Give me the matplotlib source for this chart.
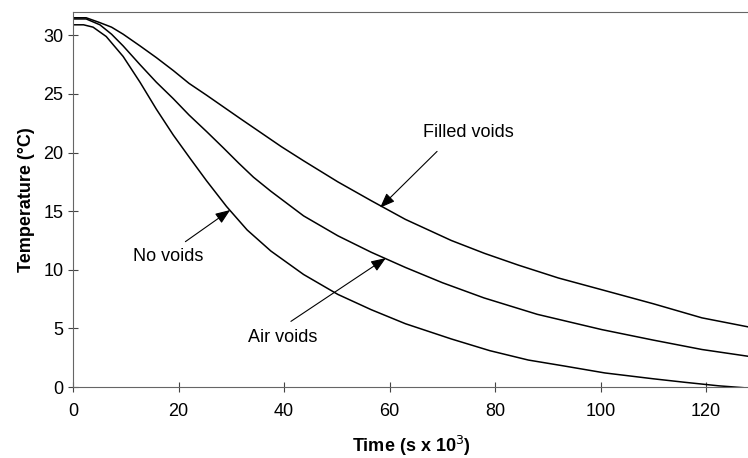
import numpy as np
from matplotlib import pyplot as plt

plt.rcParams['font.family'] = ['Liberation Sans', 'DejaVu Sans']

# time (s x 10^3) and temperature (C)
t_none = [0, 2, 3.8, 6.3, 9.5, 12.7, 15.8, 19, 22.2, 25.3, 29.1, 33, 37.5, 43.7, 50.2, 56.5, 63, 71.7, 79, 86.3, 93, 100.8, 110, 116, 122.4, 128.3]
T_none = [30.9, 30.9, 30.7, 29.9, 28.2, 26.0, 23.7, 21.5, 19.5, 17.6, 15.4, 13.4, 11.6, 9.6, 7.9, 6.6, 5.4, 4.1, 3.1, 2.3, 1.8, 1.2, 0.7, 0.4, 0.1, -0.1]

t_air = [0, 2.5, 5.1, 7.3, 9.5, 12.7, 15.8, 19, 22, 25.3, 28.5, 31.4, 34.2, 37.5, 43.7, 50.2, 56.5, 63, 70, 77.9, 88, 100.2, 110, 119.2, 128.3]
T_air = [31.4, 31.4, 30.9, 30.1, 29.1, 27.5, 26.0, 24.6, 23.2, 21.8, 20.4, 19.1, 17.9, 16.7, 14.6, 12.9, 11.5, 10.2, 8.9, 7.6, 6.2, 4.9, 4.0, 3.2, 2.6]

t_filled = [0, 2.5, 5, 7.3, 9.5, 12.7, 15.8, 19, 22, 25.3, 28.5, 31.7, 35.6, 39.5, 43.7, 50.2, 56.5, 63, 71.7, 78, 84.4, 92, 100.2, 110, 119.2, 128.3]
T_filled = [31.5, 31.5, 31.1, 30.7, 30.1, 29.1, 28.1, 27.0, 25.9, 24.9, 23.9, 22.9, 21.7, 20.5, 19.3, 17.5, 15.9, 14.3, 12.5, 11.4, 10.4, 9.3, 8.3, 7.1, 5.9, 5.1]

labels = ['No voids', 'Air voids', 'Filled voids']
label_xy = [(18, 11.1), (39.7, 4.2), (75, 21.7)]
tip_xy = [(29.8, 15.1), (59.3, 11.0), (58.2, 15.3)]
tail_xy = [(21.3, 12.4), (41.3, 5.6), (69, 20.1)]

fig = plt.figure(figsize=(7.48, 4.58), dpi=100)
ax = fig.add_axes([0.0976, 0.155, 0.905, 0.819])

for t, T in [(t_none, T_none), (t_air, T_air), (t_filled, T_filled)]:
    ax.plot(t, T, color='black', lw=1.1)

for lab, lxy, tip, tail in zip(labels, label_xy, tip_xy, tail_xy):
    ax.text(lxy[0], lxy[1], lab, ha='center', va='center', fontsize=13)
    ax.annotate('', xy=tip, xytext=tail,
                arrowprops=dict(arrowstyle='-|>,head_length=0.9,head_width=0.35',
                                color='black', lw=0.8, shrinkA=0, shrinkB=0))

ax.set_xlim(0, 128.3)
ax.set_ylim(0, 32)
ax.set_xticks([0, 20, 40, 60, 80, 100, 120])
ax.set_yticks([0, 5, 10, 15, 20, 25, 30])
ax.tick_params(direction='inout', length=7, width=0.8, labelsize=13, color='#444444')
ax.tick_params(axis='x', pad=8)
for side in ['left', 'bottom', 'top']:
    ax.spines[side].set_color('#666666')
    ax.spines[side].set_linewidth(0.8)
ax.spines['right'].set_visible(False)

ax.set_xlabel('Time (s x 10$^3$)', fontsize=13, fontweight='bold', labelpad=10)
ax.set_ylabel('Temperature (°C)', fontsize=13, fontweight='bold', labelpad=6)

fig.savefig('out.png', dpi=100)
